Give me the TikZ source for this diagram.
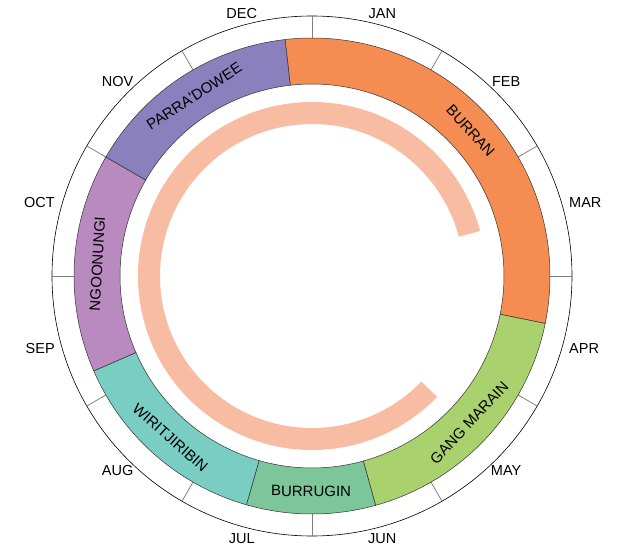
\documentclass[tikz,border=0pt]{standalone}
\usepackage{fontspec}
\setmainfont{Liberation Sans}[Ligatures=TeXOff]
\definecolor{parra}{HTML}{8A80BE}
\definecolor{burran}{HTML}{F58D52}
\definecolor{gang}{HTML}{A9D16E}
\definecolor{burrugin}{HTML}{7DC59A}
\definecolor{wirit}{HTML}{79CDC3}
\definecolor{ngoon}{HTML}{B98AC0}
\definecolor{ring}{HTML}{F8BCA2}
\begin{document}
\begin{tikzpicture}[x=1pt,y=1pt,
  month/.style={font=\fontsize{14.5}{16}\selectfont,inner sep=3pt},
  season/.style={font=\fontsize{15}{16}\selectfont,inner sep=0pt},
  band/.style={draw=black!80,line width=0.5pt}]
\useasboundingbox (-312,-276) rectangle (309,276);
\draw[line width=0.6pt] (0,0) circle[radius=260pt];
\foreach \a/\m in {75/JAN,45/FEB,15/MAR,-15/APR,-45/MAY,-75/JUN,
  -105/JUL,-135/AUG,195/SEP,165/OCT,135/NOV,105/DEC}
  \node[month,anchor=\a+180] (\m) at (\a:263) {\m};
\foreach \a in {0,30,...,330}
  \draw[gray,line width=0.8pt] (\a:238) -- (\a:260);
\foreach \from/\to/\col/\rot/\nm/\txt in {96.5/-11.5/burran/-47.5/burran/BURRAN,
  -11.5/-74.5/gang/47/gangmarain/GANG MARAIN,
  -74.5/-106/burrugin/-0.25/burrugin/BURRUGIN,
  -106/-156.5/wirit/-41.25/wiritjiribin/WIRITJIRIBIN,
  203.5/150/ngoon/86.75/ngoonungi/NGOONUNGI,
  150/96.5/parra/33.25/parradowee/PARRA'DOWEE}
{
  \filldraw[band,fill=\col] (\from:192) arc[start angle=\from,end angle=\to,radius=192pt]
    -- (\to:238) arc[start angle=\to,end angle=\from,radius=238pt] -- cycle;
  \node[season,rotate=\rot] (\nm) at ({(\from+\to)/2}:215) {\txt};
}
\fill[ring] (15:174) arc[start angle=15,end angle=316,radius=174pt]
  -- (316:152) arc[start angle=316,end angle=15,radius=152pt] -- cycle;
\end{tikzpicture}
\end{document}
